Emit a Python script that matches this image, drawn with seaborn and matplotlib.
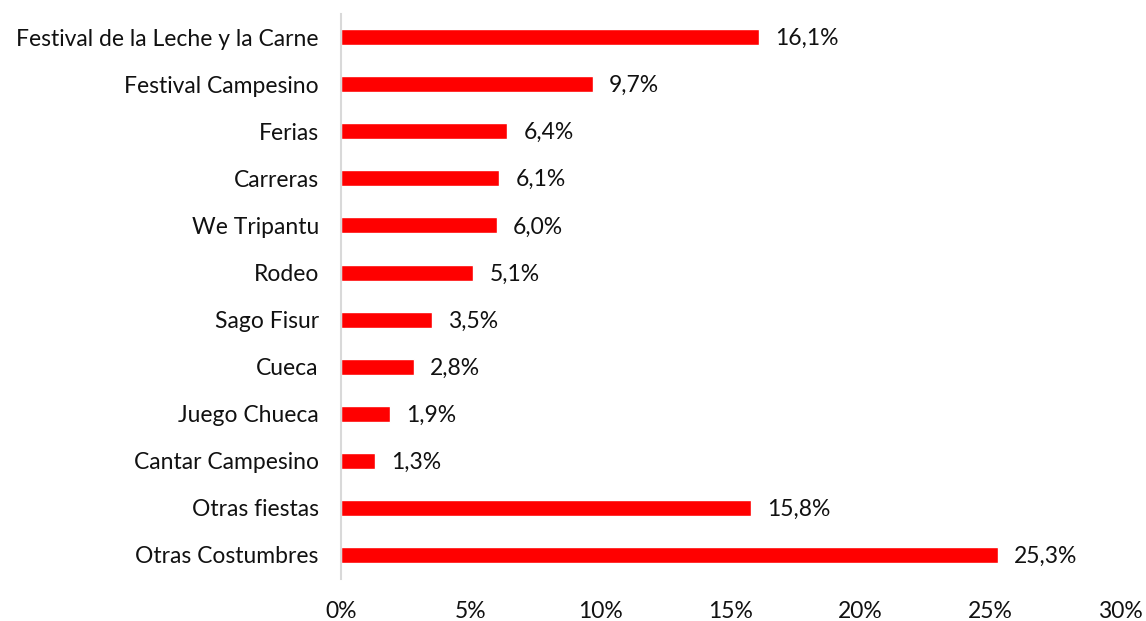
import matplotlib
matplotlib.use("Agg")
import matplotlib.pyplot as plt
import pandas as pd
import seaborn as sns

# categorías y porcentajes
categorias = ['Festival de la Leche y la Carne', 'Festival Campesino', 'Ferias',
              'Carreras', 'We Tripantu', 'Rodeo', 'Sago Fisur', 'Cueca',
              'Juego Chueca', 'Cantar Campesino', 'Otras fiestas', 'Otras Costumbres']
porcentajes = [16.1, 9.7, 6.4, 6.1, 6.0, 5.1, 3.5, 2.8, 1.9, 1.3, 15.8, 25.3]
ticks_x = [0, 5, 10, 15, 20, 25, 30]

df = pd.DataFrame({'categoria': categorias, 'pct': porcentajes})

sns.set_theme(style='white')
plt.rcParams['font.family'] = ['Lato', 'DejaVu Sans']

fig = plt.figure(figsize=(11.46, 6.21), dpi=100)
ax = fig.add_axes([0.2976, 0.0684, 0.6797, 0.9096])

sns.barplot(data=df, x='pct', y='categoria', color='#ff0000', saturation=1,
            width=0.34, orient='h', ax=ax)

for i, v in enumerate(porcentajes):
    ax.text(v + 0.62, i + 0.03, f'{v:.1f}%'.replace('.', ','), va='center', ha='left',
            fontsize=16.5, color='#111111')

ax.set_xlim(0, 30)
ax.set_ylim(11.5, -0.5)
ax.set_xticks(ticks_x)
ax.set_xticklabels([f'{t}%' for t in ticks_x], fontsize=16.5, color='#111111')
ax.tick_params(axis='y', labelsize=16.5, labelcolor='#111111', length=0, pad=16)
ax.tick_params(axis='x', length=0, pad=16)
ax.set_xlabel('')
ax.set_ylabel('')

for s in ['top', 'right', 'bottom']:
    ax.spines[s].set_visible(False)
ax.spines['left'].set_color('#d9d9d9')
ax.spines['left'].set_linewidth(1.5)

fig.savefig('out.png', dpi=100)
